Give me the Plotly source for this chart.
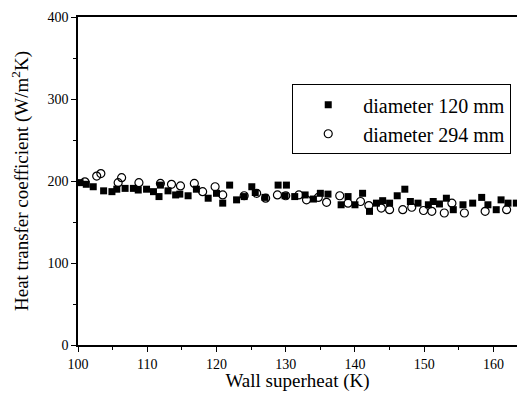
import plotly.graph_objects as go

# diameter 120 mm (filled squares)
sq_x = [100.3, 101.2, 102.2, 103.7, 104.9, 105.6, 106.8, 108.0, 108.7, 109.9, 110.9, 111.7,
        111.9, 113.0, 114.1, 114.7, 115.9, 117.1, 118.8, 120.0, 120.9, 121.9, 122.9, 124.0,
        125.1, 125.6, 127.0, 128.9, 129.9, 130.1, 131.3, 132.8, 134.0, 135.0, 136.1, 138.0,
        139.0, 140.0, 141.1, 142.1, 143.1, 144.0, 145.0, 146.1, 147.2, 148.0, 149.1, 150.6,
        151.3, 152.2, 153.2, 154.2, 155.6, 157.0, 158.3, 159.2, 160.4, 161.1, 162.1, 163.3, 164.2]
sq_y = [198, 196, 193, 188, 187, 190, 191, 191, 189, 190, 187, 181,
        195, 188, 183, 184, 182, 190, 179, 185, 173, 195, 177, 181,
        193, 186, 180, 195, 182, 195, 181, 183, 178, 185, 184, 171,
        181, 171, 185, 163, 173, 176, 173, 182, 190, 175, 173, 171,
        175, 172, 179, 165, 171, 173, 180, 171, 165, 177, 173, 173, 169]

# diameter 294 mm (open circles)
ci_x = [101.0, 102.7, 103.3, 105.8, 106.3, 108.8, 111.9, 113.5, 114.8, 116.8, 118.0, 119.8,
        120.9, 124.0, 125.8, 127.1, 128.8, 130.0, 131.9, 133.0, 134.7, 135.9, 137.8, 139.0,
        140.8, 142.0, 143.8, 145.0, 146.9, 148.2, 149.9, 151.1, 152.9, 154.0, 155.8, 158.8,
        161.9, 164.2]
ci_y = [199, 206, 209, 198, 204, 198, 197, 196, 194, 197, 187, 193,
        183, 182, 185, 179, 183, 182, 183, 177, 180, 174, 182, 173,
        175, 170, 167, 165, 165, 168, 164, 163, 161, 173, 161, 163,
        165, 169]

x_ticks = [100, 110, 120, 130, 140, 150, 160]
y_ticks = [0, 100, 200, 300, 400]

serif = "Liberation Serif"

fig = go.Figure()
fig.add_trace(go.Scatter(x=sq_x, y=sq_y, mode="markers", name="diameter 120 mm",
                         marker=dict(symbol="square", size=7, color="black",
                                     line=dict(width=0))))
fig.add_trace(go.Scatter(x=ci_x, y=ci_y, mode="markers", name="diameter 294 mm",
                         marker=dict(symbol="circle-open", size=8, color="black",
                                     line=dict(width=1.2))))

# page body has an 8px margin, so the figure is sized to fit without scrollbars
fig.update_layout(
    width=509, height=384,
    margin=dict(l=70, r=0, t=9, b=47),
    paper_bgcolor="white", plot_bgcolor="white",
    font=dict(family=serif, color="black", size=14),
    legend=dict(x=0.488, y=0.795, xanchor="left", yanchor="top",
                bordercolor="black", borderwidth=1, bgcolor="white",
                font=dict(size=20, family=serif), itemwidth=60,
                tracegroupgap=0),
)
fig.update_xaxes(range=[100, 163.4], tickvals=x_ticks, ticks="outside", ticklen=5,
                 tickcolor="black", showline=True, linecolor="black", linewidth=1.5,
                 mirror=True, showgrid=False, zeroline=False, automargin=False,
                 minor=dict(dtick=5, ticks="outside", ticklen=3, tickcolor="black"),
                 title=dict(text="Wall superheat (K)", font=dict(size=19), standoff=4))
fig.update_yaxes(range=[0, 400], tickvals=y_ticks, ticks="outside", ticklen=5,
                 tickcolor="black", showline=True, linecolor="black", linewidth=1.5,
                 showgrid=False, zeroline=False, automargin=False,
                 minor=dict(dtick=50, ticks="outside", ticklen=3, tickcolor="black"),
                 title=dict(text="Heat transfer coefficient (W/m<sup>2</sup>K)",
                            font=dict(size=19), standoff=16))

fig.write_html("out.html")
